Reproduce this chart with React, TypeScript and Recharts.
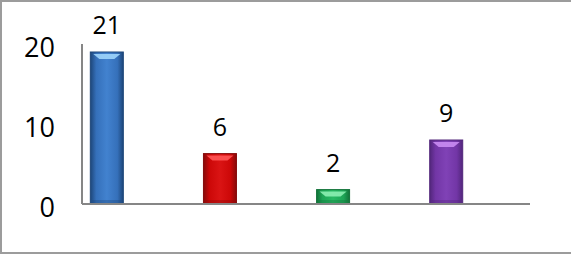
import { BarChart, Bar, XAxis, YAxis, LabelList } from "recharts";

// printed value above each bar
const counts = [21, 6, 2, 9];
// bar heights as drawn on the axis (the source chart draws them a bit short)
const barHeights = [19, 6.3, 1.8, 8];
const yTicks = [0, 10, 20];

const palette = [
  { id: "blue", edge: "#1d4679", body: "#3570ba", mid: "#4282cf", hi: "#9fd5fb" },
  { id: "red", edge: "#860b0b", body: "#cc0808", mid: "#da1414", hi: "#ff5555" },
  { id: "green", edge: "#127239", body: "#1da556", mid: "#29b964", hi: "#8cf0b2" },
  { id: "purple", edge: "#52267b", body: "#7236a6", mid: "#8042b6", hi: "#c98cf2" },
];

const data = counts.map((c, i) => ({
  idx: i,
  count: c,
  height: barHeights[i],
}));

const FONT = '"Open Sans", "Noto Sans", sans-serif';

/** glassy bar: horizontal shading plus a light wedge at the top */
function GlassBar(props: any) {
  const { x, y, width, height, index } = props;
  const c = palette[index % palette.length];
  const hiH = Math.min(5, height / 2);
  return (
    <g>
      <rect x={x} y={y} width={width} height={height} fill={`url(#grad-${c.id})`} stroke={c.edge} strokeWidth={1} />
      <polygon
        points={`${x + 3},${y + 2} ${x + width - 3},${y + 2} ${x + width - 9},${y + 2 + hiH} ${x + 9},${y + 2 + hiH}`}
        fill={c.hi}
        opacity={0.9}
      />
      {height > 12 && (
        <rect x={x + 2} y={y + height - 4} width={width - 4} height={3} fill={c.edge} opacity={0.35} />
      )}
    </g>
  );
}

function renderYTick(props: any) {
  const { x, y, payload } = props;
  return (
    <text x={x} y={y + 3} dy="0.36em" textAnchor="end" fontFamily={FONT} fontSize={27} fill="#000">
      {payload.value}
    </text>
  );
}

function renderCount(props: any) {
  const { x, y, width, value } = props;
  return (
    <text x={x + width / 2} y={y - 18} textAnchor="middle" fontFamily={FONT} fontSize={25} fill="#000">
      {value}
    </text>
  );
}

export default function App() {
  return (
    <div
      style={{
        position: "absolute",
        left: 0,
        top: 0,
        width: 573,
        height: 254,
        boxSizing: "border-box",
        border: "2px solid #9c9c9c",
        background: "#fff",
        overflow: "hidden",
      }}
    >
      <div style={{ position: "absolute", left: -2, top: -2 }}>
        <BarChart width={571} height={254} data={data} margin={{ top: 44, right: 41, bottom: 49, left: 0 }}>
          <defs>
            {palette.map((c) => (
              <linearGradient key={c.id} id={`grad-${c.id}`} x1="0" y1="0" x2="1" y2="0">
                <stop offset="0%" stopColor={c.edge} />
                <stop offset="18%" stopColor={c.body} />
                <stop offset="50%" stopColor={c.mid} />
                <stop offset="82%" stopColor={c.body} />
                <stop offset="100%" stopColor={c.edge} />
              </linearGradient>
            ))}
          </defs>
          <XAxis
            type="number"
            dataKey="idx"
            domain={[-0.22, 3.74]}
            height={1}
            tick={false}
            tickLine={false}
            axisLine={{ stroke: "#868686", strokeWidth: 2 }}
          />
          <YAxis
            domain={[0, 20]}
            ticks={yTicks}
            width={82}
            tickSize={0}
            tickMargin={27}
            tickLine={false}
            axisLine={{ stroke: "#868686", strokeWidth: 2 }}
            tick={renderYTick}
            allowDataOverflow
          />
          <Bar dataKey="height" barSize={33} shape={GlassBar} isAnimationActive={false}>
            <LabelList dataKey="count" content={renderCount} />
          </Bar>
        </BarChart>
      </div>
    </div>
  );
}
